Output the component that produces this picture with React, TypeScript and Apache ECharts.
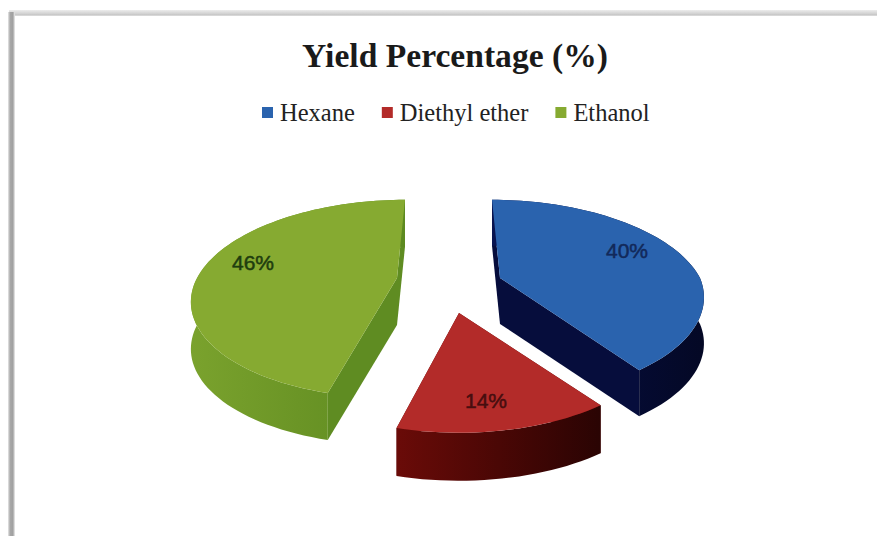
import React, { useEffect, useRef } from "react";
import * as echarts from "echarts";

// Chart content
const titleText = "Yield Percentage (%)";
const solvents = ["Hexane", "Diethyl ether", "Ethanol"];
const yields = [40, 14, 46];

// Palette per slice: top face, outer wall stops, radial wall, label ink
const topColors = ["#2a63ae", "#b32b29", "#86aa31"];
const wallStops = [
  ["#081450", "#050c38", "#040825"],
  ["#6a0b08", "#4a0705", "#2a0403"],
  ["#7aa22d", "#6b9526", "#5d8a20"],
];
const radialColors = ["#060d3c", "#5a0907", "#5f8c22"];
const labelColors = ["#12295a", "#470e0f", "#1e3d0e"];

// Pie geometry: a tilted disc seen in perspective
const RX = 200;
const RY = 94.6;
const PERSPECTIVE = 0.21;
const DEPTH = [46, 48, 47];
// Exploded apex of each slice, and how far its edges lean sideways behind and in front of the apex
const APEX = [
  [500, 278],
  [459, 313],
  [397, 278],
];
const LEAN_BACK = [8, 0, -8];
const LEAN_FRONT = [-3, 0, -7];
const LABEL_OFFSET = [
  [127, -28],
  [27, 87],
  [-144, -16],
];

const total = yields.reduce((a, b) => a + b, 0);

function project(i: number, clockAngle: number): number[] {
  const u = Math.sin(clockAngle);
  const v = -Math.cos(clockAngle);
  const s = 1 / (1 - PERSPECTIVE * v);
  const lean = v < 0 ? LEAN_BACK[i] * v : LEAN_FRONT[i] * v;
  return [APEX[i][0] + RX * u * s + lean, APEX[i][1] + RY * v * s];
}

function renderSlice(i: number, value: number) {
  const before = yields.slice(0, i).reduce((a, b) => a + b, 0);
  const a0 = (before / total) * Math.PI * 2;
  const a1 = ((before + value) / total) * Math.PI * 2;
  const steps = Math.max(8, Math.round(((a1 - a0) * 180) / Math.PI / 2));
  const arc: number[][] = [];
  for (let k = 0; k <= steps; k++) arc.push(project(i, a0 + ((a1 - a0) * k) / steps));
  const apex = APEX[i];
  const d = DEPTH[i];
  const down = (p: number[]) => [p[0], p[1] + d];

  // Outer wall: the arc swept straight down by the slice's thickness
  const wall = arc.concat(arc.slice().reverse().map(down));
  const wallFill = new echarts.graphic.LinearGradient(0, 0, 1, 0, [
    { offset: 0, color: wallStops[i][0] },
    { offset: 0.5, color: wallStops[i][1] },
    { offset: 1, color: wallStops[i][2] },
  ]);
  // Radial walls: both cut edges swept down, the hidden parts stay under the top face
  const radialA = [apex, arc[0], down(arc[0]), down(apex)];
  const radialB = [apex, arc[arc.length - 1], down(arc[arc.length - 1]), down(apex)];
  const radialFill = radialColors[i];

  const children: any[] = [
    { type: "polygon", shape: { points: radialA }, style: { fill: radialFill } },
    { type: "polygon", shape: { points: radialB }, style: { fill: radialFill } },
    { type: "polygon", shape: { points: wall }, style: { fill: wallFill } },
    { type: "polygon", shape: { points: [apex].concat(arc) }, style: { fill: topColors[i] } },
    {
      type: "text",
      x: apex[0] + LABEL_OFFSET[i][0],
      y: apex[1] + LABEL_OFFSET[i][1],
      style: {
        text: Math.round((value / total) * 100) + "%",
        fill: labelColors[i],
        stroke: labelColors[i],
        lineWidth: 0.5,
        font: '21px "Liberation Sans", sans-serif',
        align: "center",
        verticalAlign: "middle",
      },
    },
  ];
  return { type: "group", children };
}

export default function App() {
  const ref = useRef<HTMLDivElement>(null);

  useEffect(() => {
    document.body.style.margin = "0";
    document.body.style.background = "#ffffff";
    const chart = echarts.init(ref.current!, undefined, { renderer: "svg" });
    chart.setOption({
      animation: false,
      backgroundColor: "#ffffff",
      title: {
        text: titleText,
        left: 450,
        top: 33,
        textAlign: "center",
        textStyle: {
          fontFamily: '"Liberation Serif", serif',
          fontWeight: "bold",
          fontSize: 33.6,
          color: "#1a1a1a",
        },
      },
      legend: {
        data: solvents,
        left: 257,
        top: 95,
        icon: "rect",
        itemWidth: 11,
        itemHeight: 11,
        itemGap: 27,
        textStyle: {
          fontFamily: '"Liberation Serif", serif',
          fontSize: 24.5,
          color: "#222222",
          padding: [0, 0, 0, 2],
        },
      },
      graphic: [
        // Sheet edges along the top and left
        {
          type: "rect",
          silent: true,
          shape: { x: 9, y: 10, width: 868, height: 6 },
          style: {
            fill: new echarts.graphic.LinearGradient(0, 0, 0, 1, [
              { offset: 0, color: "#ececec" },
              { offset: 0.6, color: "#d2d2d2" },
              { offset: 0.85, color: "#c4c4c4" },
              { offset: 1, color: "#eeeeee" },
            ]),
          },
        },
        {
          type: "rect",
          silent: true,
          shape: { x: 8, y: 12, width: 7, height: 524 },
          style: {
            fill: new echarts.graphic.LinearGradient(0, 0, 1, 0, [
              { offset: 0, color: "#e8e8e8" },
              { offset: 0.3, color: "#a8a8a8" },
              { offset: 0.7, color: "#a0a0a0" },
              { offset: 1, color: "#f0f0f0" },
            ]),
          },
        },
      ],
      series: solvents.map((name, i) => ({
        type: "custom",
        name,
        coordinateSystem: "none",
        itemStyle: { color: topColors[i] },
        data: [[yields[i]]],
        silent: true,
        renderItem: (_params: any, api: any) => renderSlice(i, api.value(0)),
      })),
    });
    return () => chart.dispose();
  }, []);

  return <div ref={ref} style={{ position: "absolute", left: 0, top: 0, width: 877, height: 536 }} />;
}
